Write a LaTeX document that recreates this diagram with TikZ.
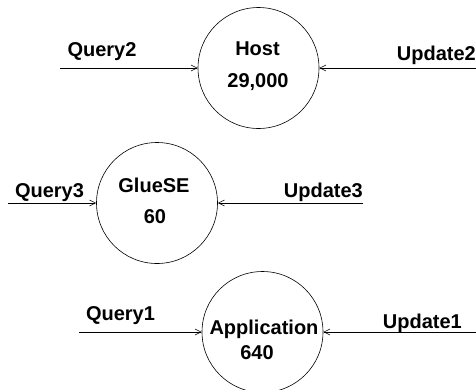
\documentclass[tikz,border=0pt]{standalone}
\usepackage{fontspec}
\setmainfont{Liberation Sans}
\usetikzlibrary{arrows.meta}
\begin{document}
\begin{tikzpicture}[x=1pt,y=-1pt,
  proc/.style={draw, circle, minimum size=121pt, inner sep=0pt, line width=0.6pt},
  lbl/.style={anchor=base, inner sep=0pt, font=\fontsize{20}{24}\selectfont\bfseries},
  flow/.style={line width=0.6pt, -{Straight Barb[length=6pt,width=6pt]}}]
\useasboundingbox (0,0) rectangle (476,389);
% circles
\node[proc] (host) at (258.5,68) {};
\node[proc] (glue) at (157,203) {};
\node[proc] (app) at (262.5,332) {};
% texts inside
\node[lbl] (hostT) at (257.5,55) {Host};
\node[lbl] (hostN) at (258,87) {29,000};
\node[lbl] (glueT) at (154,192) {GlueSE};
\node[lbl] (glueN) at (155,223) {60};
\node[lbl] (appT) at (264,334) {Application};
\node[lbl] (appN) at (257,359) {640};
% free ends
\coordinate (q2) at (60,68);
\coordinate (u2) at (476,68);
\coordinate (q3) at (8,203);
\coordinate (u3) at (363,203);
\coordinate (q1) at (79,332);
\coordinate (u1) at (476,332);
% labels
\node[lbl] (q2L) at (102,56) {Query2};
\node[lbl,anchor=base east] (u2L) at (476,60) {Update2};
\node[lbl] (q3L) at (49.5,197) {Query3};
\node[lbl,anchor=base east] (u3L) at (363,197) {Update3};
\node[lbl] (q1L) at (120.5,320) {Query1};
\node[lbl,anchor=base east] (u1L) at (462,328) {Update1};
% connectors
\draw[flow] (q2) -- (host.west);
\draw[flow] (u2) -- (host.east);
\draw[flow] (q3) -- (glue.west);
\draw[flow] (u3) -- (glue.east);
\draw[flow] (q1) -- (app.west);
\draw[flow] (u1) -- (app.east);
\end{tikzpicture}
\end{document}
